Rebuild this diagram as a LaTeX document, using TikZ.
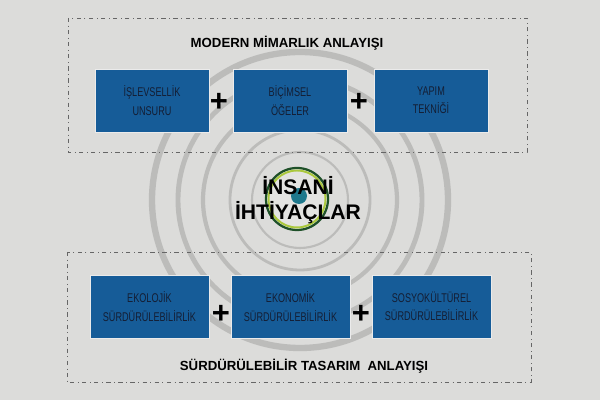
\documentclass[tikz,border=0pt]{standalone}
\usepackage{fontspec}
\setmainfont{Liberation Sans}
\newfontfamily\narrowfont[FakeStretch=0.72]{Liberation Sans}
\definecolor{bgcol}{RGB}{220,220,218}
\definecolor{boxblue}{RGB}{22,92,152}
\definecolor{boxtext}{RGB}{20,30,52}
\definecolor{ringgreen}{RGB}{30,80,40}
\definecolor{ringyellow}{RGB}{170,200,60}
\definecolor{dotteal}{RGB}{30,120,140}
\tikzset{
  frame/.style={draw=black!60, line width=0.4pt,
    dash pattern=on 3pt off 2.5pt on 0.6pt off 2.5pt},
  bluebox/.style={draw=black!8, line width=0.5pt, fill=boxblue, text=boxtext,
    minimum height=1.575cm, align=center, inner sep=0pt,
    font=\narrowfont\fontsize{9}{13}\selectfont},
  plus/.style={font=\bfseries\fontsize{22}{22}\selectfont, inner sep=0pt},
  title/.style={font=\bfseries\fontsize{9.4}{11}\selectfont},
  swirl/.style={draw=black!55, opacity=0.3}
}

\begin{document}
\begin{tikzpicture}[x=0.025cm,y=0.025cm]
% background
\fill[bgcol] (0,0) rectangle (600,400);
\useasboundingbox (0,0) rectangle (600,400);
\draw[swirl, line width=4.5pt] (300,200) circle (148);
\draw[swirl, line width=3.5pt] (300,200) circle (122);
\draw[swirl, line width=3pt] (300,200) circle (97);
\draw[swirl, line width=2pt] (300,200) circle (70);
\draw[swirl, line width=1.5pt] (300,200) circle (48);

% frames
\draw[frame] (68,382) rectangle (527,248);
\draw[frame] (67,148) rectangle (531,18);
\node[title] (modern) at (287,357) {MODERN MİMARLIK ANLAYIŞI};
\node[title] (surdur) at (304,34) {SÜRDÜRÜLEBİLİR TASARIM\ \ ANLAYIŞI};

% top row
\node[bluebox, minimum width=2.85cm] (islev) at (152,299.5) {İŞLEVSELLİK\\UNSURU};
\node[bluebox, minimum width=2.85cm] (bicim) at (290,299.5) {BİÇİMSEL\\ÖĞELER};
\node[bluebox, minimum width=2.85cm] (yapim) at (431,299.5) {YAPIM\\TEKNİĞİ};
\node[plus] (p1) at (219,298) {+};
\node[plus] (p2) at (359,298) {+};

% bottom row
\node[bluebox, minimum width=2.975cm] (ekolojik) at (149.5,93.5) {EKOLOJİK\\SÜRDÜRÜLEBİLİRLİK};
\node[bluebox, minimum width=2.975cm] (ekonomik) at (290.5,93.5) {EKONOMİK\\SÜRDÜRÜLEBİLİRLİK};
\node[bluebox, minimum width=2.975cm] (sosyo) at (431.5,93.5) {SOSYOKÜLTÜREL\\SÜRDÜRÜLEBİLİRLİK};
\node[plus] (p3) at (221,86) {+};
\node[plus] (p4) at (361,86) {+};

% centre
\fill[bgcol!80!white] (297,201) circle (31);
\draw[ringgreen, line width=1.6pt] (297,201) circle (31);
\draw[ringyellow, line width=1.4pt] (297,201) circle (28.5);
\fill[dotteal] (299,204) circle (8);
\node[align=center, font=\bfseries\fontsize{15}{18}\selectfont] (insan) at (298,200) {İNSANİ\\İHTİYAÇLAR};
\end{tikzpicture}
\end{document}
